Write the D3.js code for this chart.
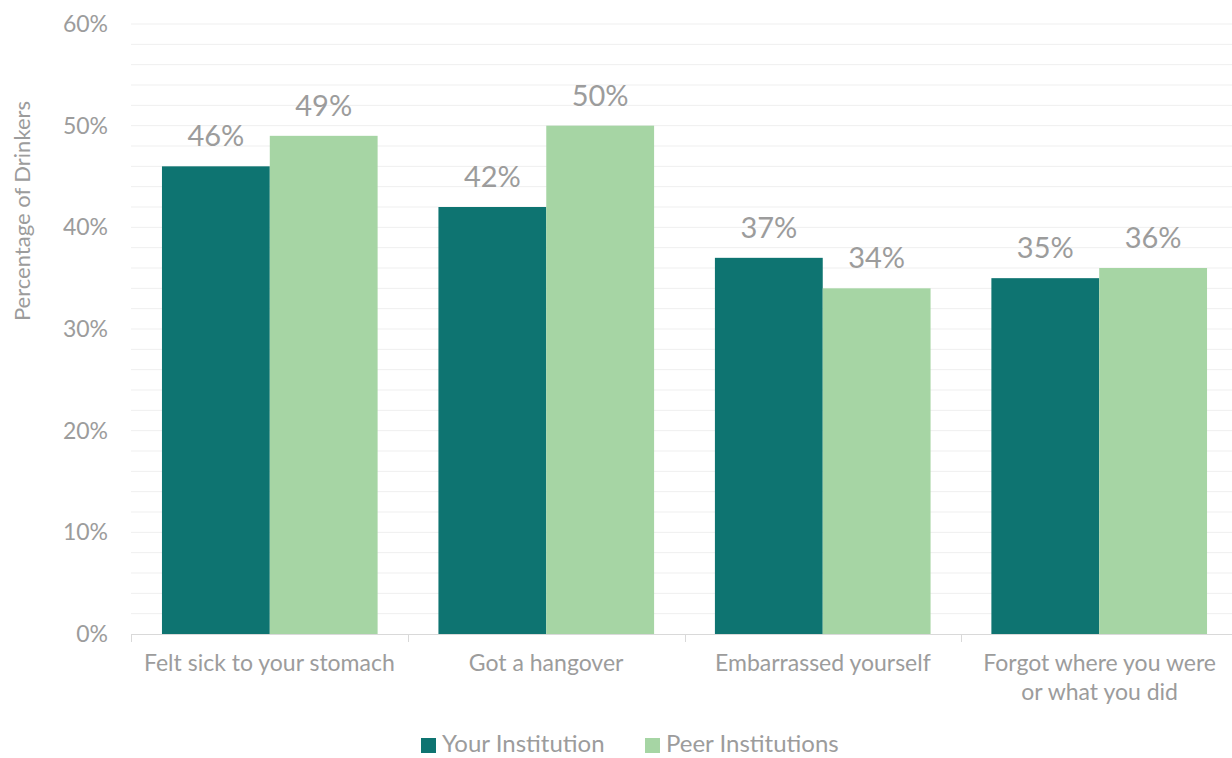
<!DOCTYPE html>
<html><head><meta charset="utf-8">
<script src="https://cdn.jsdelivr.net/npm/d3@7"></script>
<style>body{margin:0;background:#fff;} text{font-family:Lato,'Open Sans',sans-serif;}</style>
</head><body>
<svg id="c" width="1232" height="758"></svg>
<script>
const categories = [["Felt sick to your stomach"],["Got a hangover"],["Embarrassed yourself"],["Forgot where you were","or what you did"]];
const series = ["Your Institution","Peer Institutions"];
const yourInstitution = [46,42,37,35];
const peerInstitutions = [49,50,34,36];
const yTicks = [0,10,20,30,40,50,60];
const colors = ["#0e7471","#a6d5a4"];
const textColor = "#9c9c9c";

const svg = d3.select("#c");
const m = {left:131, right:1238, top:24, bottom:634};
const x = d3.scaleBand().domain(d3.range(categories.length)).range([m.left,m.right]).paddingInner(0.22).paddingOuter(0.112);
const xCat = d3.scaleBand().domain(d3.range(categories.length)).range([m.left,m.right]);
const y = d3.scaleLinear().domain([0,60]).range([m.bottom,m.top]);
const xs = d3.scaleBand().domain(series).range([0,x.bandwidth()]);

// gridlines
svg.append("g").selectAll("line").data(d3.range(2,61,2)).join("line")
  .attr("x1",m.left).attr("x2",m.right).attr("y1",d=>y(d)).attr("y2",d=>y(d))
  .attr("stroke","#efefef").attr("stroke-width",1);

// y tick labels
svg.append("g").selectAll("text").data(yTicks).join("text")
  .attr("x",108).attr("y",d=>y(d)).attr("dy","0.35em").attr("text-anchor","end")
  .attr("font-size",23).attr("fill",textColor).text(d=>d+"%");

// y title
svg.append("text").attr("transform","translate(30,211) rotate(-90)").attr("text-anchor","middle")
  .attr("font-size",22).attr("fill",textColor).text("Percentage of Drinkers");

// bars
const vals = [yourInstitution, peerInstitutions];
series.forEach((s,si)=>{
  const g = svg.append("g");
  g.selectAll("rect").data(vals[si]).join("rect")
    .attr("x",(d,i)=>x(i)+xs(s)).attr("width",xs.bandwidth())
    .attr("y",d=>y(d)).attr("height",d=>y(0)-y(d)).attr("fill",colors[si]);
  g.selectAll("text").data(vals[si]).join("text")
    .attr("x",(d,i)=>x(i)+xs(s)+xs.bandwidth()/2).attr("y",d=>y(d)-20)
    .attr("text-anchor","middle").attr("font-size",29).attr("fill",textColor).text(d=>d+"%");
});

// x axis
svg.append("line").attr("x1",m.left).attr("x2",m.right).attr("y1",y(0)+0.5).attr("y2",y(0)+0.5).attr("stroke","#d9d9d9");
svg.append("g").selectAll("line").data(d3.range(categories.length)).join("line")
  .attr("x1",d=>Math.round(xCat(d))+0.5).attr("x2",d=>Math.round(xCat(d))+0.5)
  .attr("y1",y(0)).attr("y2",y(0)+8).attr("stroke","#d9d9d9");

const cl = svg.append("g").selectAll("text").data(categories).join("text")
  .attr("text-anchor","middle").attr("font-size",23).attr("fill",textColor)
  .attr("transform",(d,i)=>`translate(${xCat(i)+xCat.bandwidth()/2},671)`);
cl.selectAll("tspan").data(d=>d).join("tspan").attr("x",0).attr("dy",(d,i)=>i?"1.27em":0).text(d=>d);

// legend
const leg = svg.append("g");
const lx = [421,645];
series.forEach((s,i)=>{
  leg.append("rect").attr("x",lx[i]).attr("y",738).attr("width",15).attr("height",15).attr("fill",colors[i]);
  leg.append("text").attr("x",lx[i]+21).attr("y",752).attr("font-size",24).attr("fill",textColor).text(s);
});
</script>
</body></html>
